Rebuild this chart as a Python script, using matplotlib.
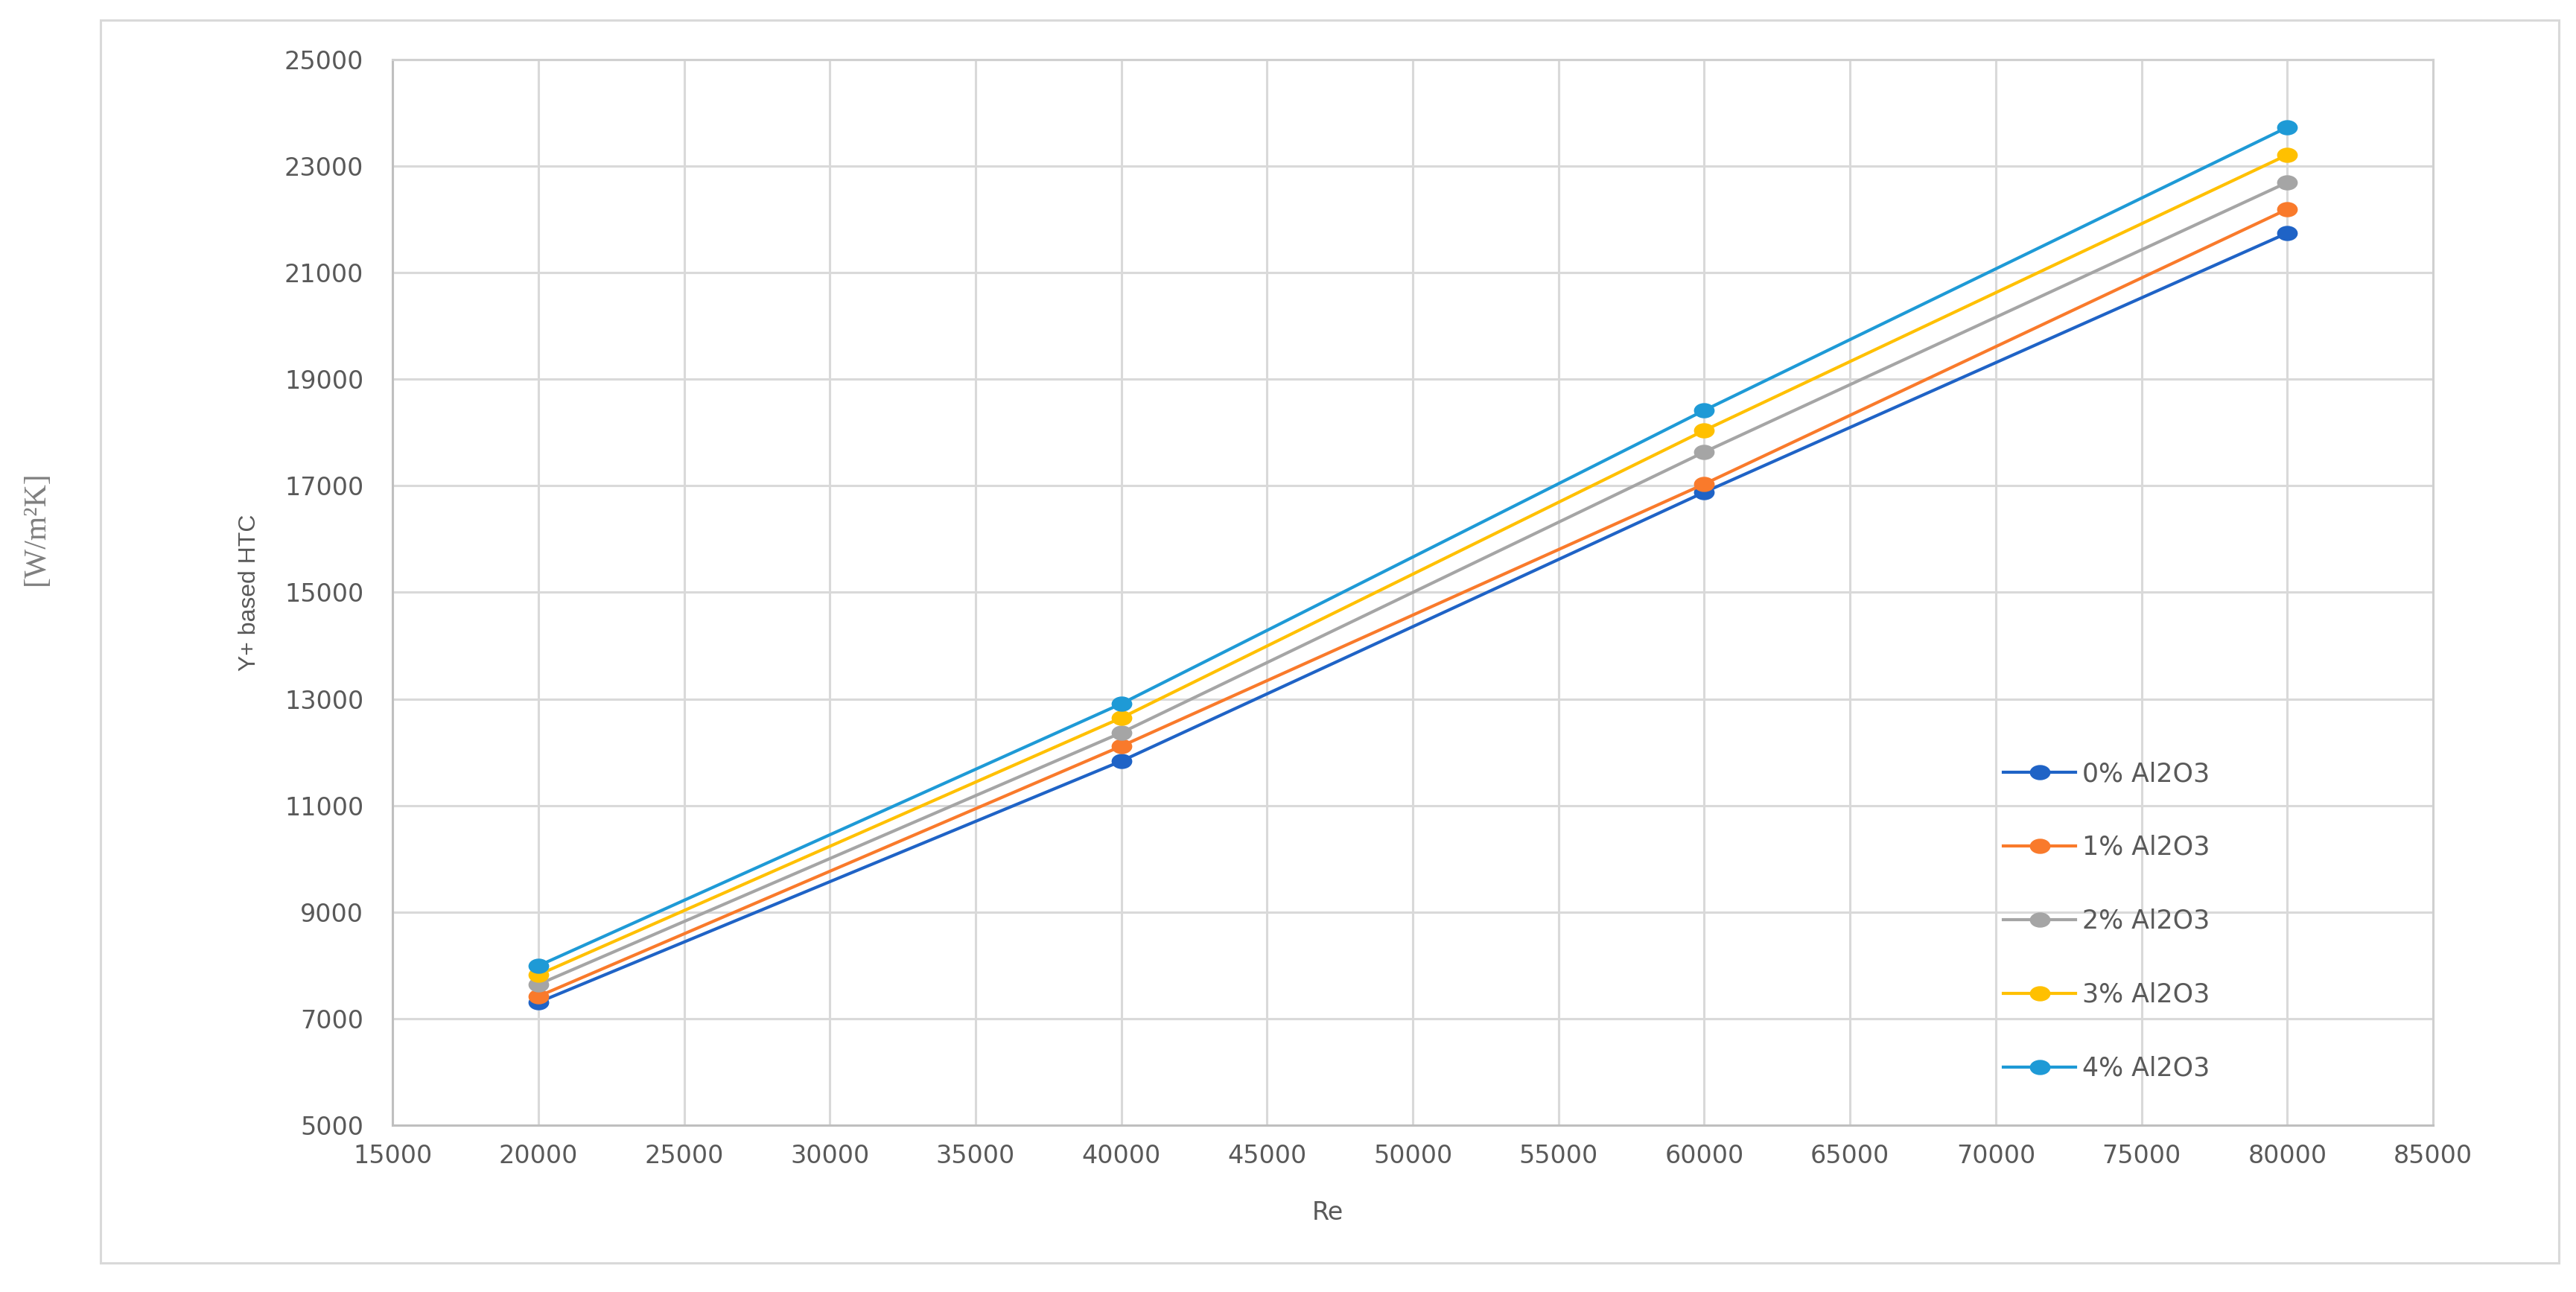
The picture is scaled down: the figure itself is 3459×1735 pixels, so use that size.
import numpy as np
import matplotlib
matplotlib.use("Agg")
import matplotlib.pyplot as plt
from matplotlib.path import Path
from matplotlib.patches import Rectangle

# данные
re_values = [20000, 40000, 60000, 80000]
labels = ['0% Al2O3', '1% Al2O3', '2% Al2O3', '3% Al2O3', '4% Al2O3']
htc_0 = [7306, 11834, 16880, 21744]
htc_1 = [7418, 12114, 17034, 22191]
htc_2 = [7642, 12366, 17634, 22694]
htc_3 = [7823, 12645, 18040, 23211]
htc_4 = [7991, 12910, 18417, 23728]
series = [htc_0, htc_1, htc_2, htc_3, htc_4]
colors = ['#1F63C6', '#F97A2B', '#A5A5A5', '#FFC000', '#1E9AD6']

x_ticks = np.arange(15000, 85001, 5000)
y_ticks = np.arange(5000, 25001, 2000)

text_gray = '#595959'
grid_gray = '#D9D9D9'

# немного сплюснутый круглый маркер
circ = Path.unit_circle()
ellipse = Path(circ.vertices * np.array([1.0, 0.72]), circ.codes)

fig = plt.figure(figsize=(34.59, 17.35), dpi=100)
fig.patch.set_facecolor('white')

# внешняя рамка
fig.patches.append(Rectangle((0.039, 0.0225), 0.9544, 0.962, transform=fig.transFigure,
                             fill=False, edgecolor='#D9D9D9', linewidth=2.2))

ax = fig.add_axes([0.1524, 0.1291, 0.7921, 0.8248])

for vals, lab, col in zip(series, labels, colors):
    ax.plot(re_values, vals, color=col, linewidth=3.0, marker=ellipse,
            markersize=19, label=lab, zorder=3)

ax.set_xlim(15000, 85000)
ax.set_ylim(5000, 25000)
ax.set_xticks(x_ticks)
ax.set_yticks(y_ticks)
ax.grid(True, color=grid_gray, linewidth=2.2, zorder=0)
ax.set_axisbelow(True)
ax.tick_params(length=0, labelsize=24, labelcolor=text_gray)
ax.tick_params(axis='x', pad=18)
ax.tick_params(axis='y', pad=28)
for s in ax.spines.values():
    s.set_color('#D0D0D0')
    s.set_linewidth(2.2)
ax.spines['bottom'].set_color('#BFBFBF')
ax.spines['left'].set_color('#BFBFBF')

ax.set_xlabel('Re', fontsize=24, color=text_gray, va='center')
ax.xaxis.set_label_coords(0.4584, -0.0818)
ax.set_ylabel('Y+ based HTC', fontsize=23, color=text_gray, va='center',
              family='Liberation Sans')
ax.yaxis.set_label_coords(-0.0702, 0.5)

fig.text(0.0142, 0.591, '[W/m²K]', rotation=90, fontsize=30, color='#7F7F7F',
         family='Liberation Serif', ha='center', va='center')

leg = ax.legend(loc='upper left', bbox_to_anchor=(2690 / 3459, 1 - 1022 / 1735),
                bbox_transform=fig.transFigure, frameon=False, fontsize=25,
                handlelength=2.8, handletextpad=0.25, labelspacing=1.87,
                borderpad=0, borderaxespad=0)
for t in leg.get_texts():
    t.set_color(text_gray)

fig.savefig('out.png', dpi=100)
